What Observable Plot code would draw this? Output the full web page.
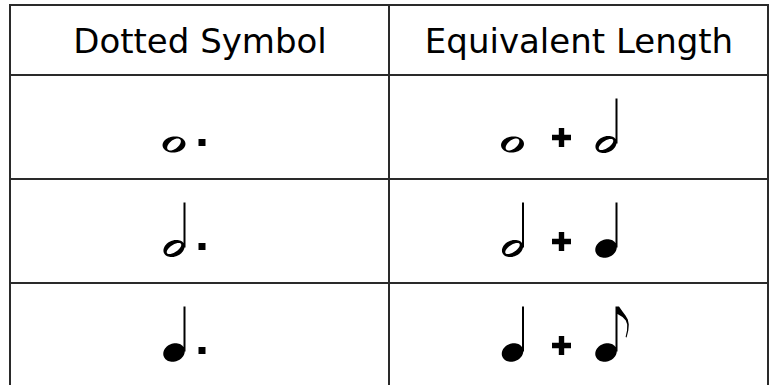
<!DOCTYPE html>
<html>
<head>
<meta charset="utf-8">
<script src="https://cdn.jsdelivr.net/npm/d3@7"></script>
<script src="https://cdn.jsdelivr.net/npm/@observablehq/plot@0.6"></script>
<style>
  html, body { margin: 0; padding: 0; background: #ffffff; }
</style>
</head>
<body>
<div id="chart"></div>
<script>
// ---- Data ----
const columns = ["Dotted Symbol", "Equivalent Length"];
const rows = ["dotted whole note", "dotted half note", "dotted quarter note"];
const dottedSymbols = [["whole", "dot"], ["half", "dot"], ["quarter", "dot"]];
const equivalentLengths = [["whole", "plus", "half"], ["half", "plus", "quarter"], ["quarter", "plus", "eighth"]];

// ---- Glyph shapes (custom symbols, origin at note-head centre) ----
function ellipsePath(ctx, rx, ry, deg, reverse) {
  const n = 56, a = deg * Math.PI / 180, c = Math.cos(a), s = Math.sin(a);
  for (let i = 0; i <= n; i++) {
    const t = (reverse ? -1 : 1) * 2 * Math.PI * i / n;
    const x = rx * Math.cos(t), y = ry * Math.sin(t);
    const px = x * c - y * s, py = x * s + y * c;
    if (i === 0) ctx.moveTo(px, py); else ctx.lineTo(px, py);
  }
  ctx.closePath();
}
function polygon(ctx, pts) {
  pts.forEach(([x, y], i) => i ? ctx.lineTo(x, y) : ctx.moveTo(x, y));
  ctx.closePath();
}
function stem(ctx) { ctx.rect(9.5, -46, 2, 45); }
const shapes = {
  whole: {draw(ctx) { ellipsePath(ctx, 11.5, 8, -6, false); ellipsePath(ctx, 8, 4.3, -38, true); }},
  half: {draw(ctx) { ellipsePath(ctx, 11, 8, -24, false); ellipsePath(ctx, 8.4, 3.7, -34, true); stem(ctx); }},
  quarter: {draw(ctx) { ellipsePath(ctx, 11, 9, -22, false); stem(ctx); }},
  eighth: {draw(ctx) {
    ellipsePath(ctx, 11, 9, -22, false); stem(ctx);
    polygon(ctx, [[10.5, -46], [13, -46], [16.5, -41], [19.5, -37], [21.8, -33], [22.8, -28], [22.3, -22], [20.6, -15],
                  [19.6, -15.5], [21, -22], [21.2, -28], [19.8, -32], [16.5, -35.5], [11.5, -38.5], [10.5, -38.5]]);
  }},
  dot: {draw(ctx) { ctx.rect(-3.5, -5.5, 7, 7); }},
  plus: {draw(ctx) {
    const h = 9.5, t = 2.7, cy = -7;
    polygon(ctx, [[-t, cy - h], [t, cy - h], [t, cy - t], [h, cy - t], [h, cy + t], [t, cy + t],
                  [t, cy + h], [-t, cy + h], [-t, cy + t], [-h, cy + t], [-h, cy - t], [-t, cy - t]]);
  }}
};

// ---- Layout (horizontal placement of glyphs within a cell, from the cell centre) ----
const slotOffsets = {[columns[0]]: [-26, 2], [columns[1]]: [-66.5, -17.5, 27]};
const glyphDrop = 17;
const lineColor = "#2a2a2a";

const glyphs = rows.flatMap((row, i) => [
  ...dottedSymbols[i].map((glyph, slot) => ({row, column: columns[0], slot, glyph})),
  ...equivalentLengths[i].map((glyph, slot) => ({row, column: columns[1], slot, glyph}))
]);
const cells = rows.flatMap(row => columns.map(column => ({row, column})));

const glyphMarks = glyphs.map(d => Plot.dot([d], {
  x: "column", y: "row",
  symbol: shapes[d.glyph],
  dx: slotOffsets[d.column][d.slot], dy: glyphDrop,
  fill: "black", stroke: "none"
}));

const chart = Plot.plot({
  width: 774,
  height: 385,
  marginLeft: 10,
  marginRight: 6,
  marginTop: 5,
  marginBottom: -3,
  x: {domain: columns, padding: 0, axis: null},
  y: {domain: rows, range: [74, 388], padding: 0, axis: null},
  marks: [
    Plot.cell(columns, {x: d => d, fill: "none", stroke: lineColor, strokeWidth: 2, inset: 0, shapeRendering: "crispEdges"}),
    Plot.cell(cells, {x: "column", y: "row", fill: "none", stroke: lineColor, strokeWidth: 2, inset: 0, shapeRendering: "crispEdges"}),
    Plot.text(columns, {
      x: d => d, text: d => d, frameAnchor: "top", lineAnchor: "bottom", dy: 47,
      fontSize: 34, fontFamily: "DejaVu Sans", fill: "black"
    }),
    ...glyphMarks
  ]
});
document.getElementById("chart").appendChild(chart);
</script>
</body>
</html>
